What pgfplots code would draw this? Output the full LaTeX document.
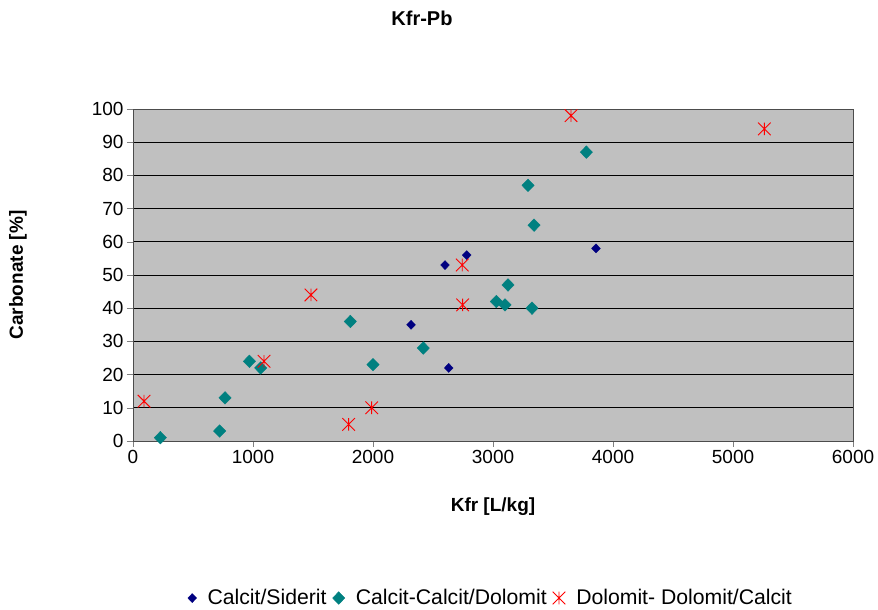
\documentclass[border=0pt]{standalone}
\usepackage{pgfplots}
\pgfplotsset{compat=1.18}
\usepackage{fontspec}
\setmainfont{Liberation Sans}
\definecolor{navyc}{HTML}{000080}
\definecolor{tealc}{HTML}{008080}
\definecolor{plotbg}{HTML}{C0C0C0}
\pgfdeclareplotmark{xstar}{%
  \pgfpathmoveto{\pgfqpoint{-\pgfplotmarksize}{-\pgfplotmarksize}}%
  \pgfpathlineto{\pgfqpoint{\pgfplotmarksize}{\pgfplotmarksize}}%
  \pgfpathmoveto{\pgfqpoint{-\pgfplotmarksize}{\pgfplotmarksize}}%
  \pgfpathlineto{\pgfqpoint{\pgfplotmarksize}{-\pgfplotmarksize}}%
  \pgfpathmoveto{\pgfqpoint{0pt}{-\pgfplotmarksize}}%
  \pgfpathlineto{\pgfqpoint{0pt}{\pgfplotmarksize}}%
  \pgfusepathqstroke}
\begin{document}
\begin{tikzpicture}[x=1bp,y=1bp]
\path[use as bounding box] (-133,-169) rectangle (745,441);
\begin{axis}[
  at={(0,0)}, anchor=south west,
  scale only axis, width=720bp, height=332bp,
  xmin=0, xmax=6000, ymin=0, ymax=100,
  xtick={0,1000,...,6000}, ytick={0,10,...,100},
  scaled x ticks=false,
  /pgf/number format/assume math mode=true,
  /pgf/number format/1000 sep={},
  tick label style={font=\fontsize{19bp}{22bp}\selectfont},
  tick align=outside, tick pos=left,
  major tick length=6bp,
  axis background/.style={fill=plotbg},
  axis line style={draw=gray!60!black, line width=0.8pt},
  ymajorgrids, grid style={black, line width=0.6pt},
  legend style={draw=none, fill=none, at={(0.497,-0.473)}, anchor=center,
    legend columns=3, font=\fontsize{21.2bp}{24bp}\selectfont,
    /tikz/every even column/.append style={column sep=4bp},
    /tikz/every odd column/.append style={column sep=9bp}},
  legend cell align=left,
]
\addplot[only marks, mark=diamond*, mark size=4.5bp, color=navyc, mark options={xscale=1.3}] coordinates {
(2600,53) (2781,56) (2317,35) (2631,22) (3858,58)
};
\addlegendentry{Calcit/Siderit}
\addplot[only marks, mark=diamond*, mark size=6.3bp, color=tealc, mark options={xscale=1.3}] coordinates {
(228,1) (722,3) (767,13) (970,24) (1064,22) (1811,36) (2000,23) (2419,28)
(3028,42) (3100,41) (3125,47) (3325,40) (3342,65) (3292,77) (3778,87)
};
\addlegendentry{Calcit-Calcit/Dolomit}
\addplot[only marks, mark=xstar, mark size=6.3bp, color=red, line width=0.9pt] coordinates {
(92,12) (1092,24) (1483,44) (1797,5) (1989,10) (2744,53) (2747,41) (3650,98) (5261,94)
};
\addlegendentry{Dolomit- Dolomit/Calcit}
\end{axis}
\node[font=\fontsize{20bp}{24bp}\selectfont\bfseries] at (289,423) {Kfr-Pb};
\node[font=\fontsize{19bp}{22bp}\selectfont\bfseries] at (360,-66) {Kfr [L/kg]};
\node[font=\fontsize{19bp}{22bp}\selectfont\bfseries, rotate=90] at (-115,166) {Carbonate [\%]};
\end{tikzpicture}
\end{document}
